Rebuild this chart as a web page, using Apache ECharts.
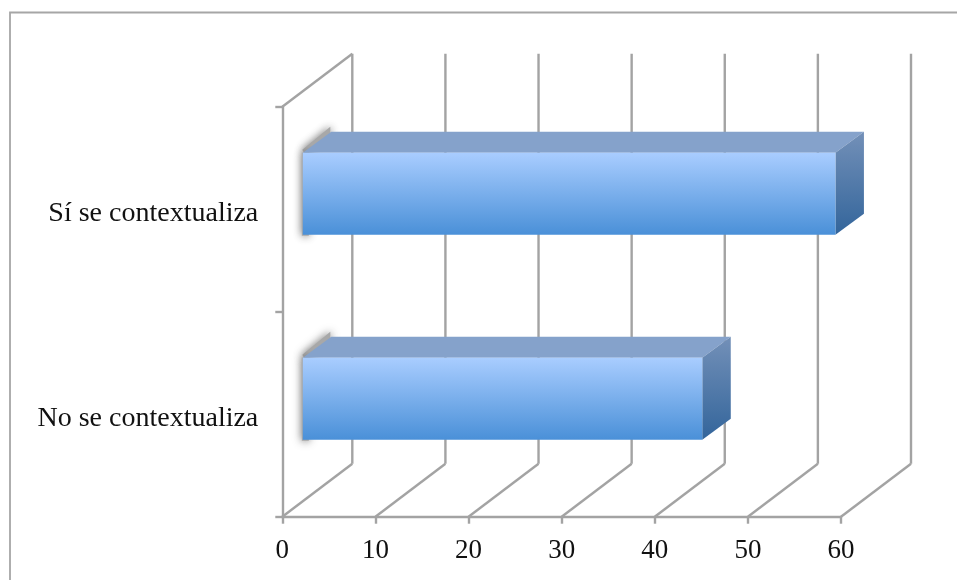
<!DOCTYPE html>
<html><head><meta charset="utf-8">
<style>html,body{margin:0;padding:0;background:#fff}#c{width:957px;height:580px}</style>
<script src="https://cdn.jsdelivr.net/npm/echarts@6/dist/echarts.min.js"></script>
</head><body><div id="c"></div>
<script>
const categories = ['No se contextualiza', 'Sí se contextualiza'];
const barValues = [42.9, 57.2];
const xTicks = [0, 10, 20, 30, 40, 50, 60];

const GRID = '#a3a3a3';
const wallDx = 70, wallDy = -53;
const barStartDx = 20.5, barStartDy = -16;
const barDx = 28.5, barDy = -21;
const bandFill = 0.4;

const chart = echarts.init(document.getElementById('c'), null, {renderer: 'canvas'});

function renderWall(params, api) {
  const t = api.value(0);
  const cs = params.coordSys;
  const x = api.coord([t, 0])[0];
  const yB = cs.y + cs.height, yT = cs.y;
  const ln = (x1, y1, x2, y2) => ({type: 'line', shape: {x1, y1, x2, y2},
    style: {stroke: GRID, lineWidth: 2.4}});
  const kids = [
    ln(x, yB, x + wallDx, yB + wallDy),
    ln(x + wallDx, yB + wallDy, x + wallDx, yT + wallDy)
  ];
  if (t === 0) kids.push(ln(x, yT, x + wallDx, yT + wallDy));
  return {type: 'group', children: kids};
}

function renderBar(params, api) {
  const val = api.value(0), cat = api.value(1);
  const c0 = api.coord([0, cat]), c1 = api.coord([val, cat]);
  const h = api.size([0, 1])[1] * bandFill;
  const xL = c0[0] + barStartDx, xR = c1[0] + barStartDx;
  const yT = c0[1] + barStartDy - h / 2 + 0.5, yB = yT + h;
  const poly = (points, fill, extra) => ({type: 'polygon', shape: {points},
    style: Object.assign({fill}, extra || {})});
  const vg = (a, b) => new echarts.graphic.LinearGradient(0, 0, 0, 1, [{offset: 0, color: a}, {offset: 1, color: b}]);
  const soft = {shadowBlur: 8, shadowColor: 'rgba(80,80,80,0.9)'};
  return {type: 'group', children: [
    poly([[xL - 0.5, yT - 3], [xL + barDx - 1, yT + barDy - 5], [xL + barDx - 1, yT + barDy + 3], [xL + 3, yT + 3]], '#a8a8a8', soft),
    poly([[xL - 1, yT], [xL + 8, yT], [xL + 6, yB + 1], [xL - 1, yB + 1]], '#a8a8a8', soft),
    poly([[xL, yT], [xL + barDx, yT + barDy], [xR + barDx, yT + barDy], [xR, yT]], '#85a2cb'),
    poly([[xR, yT], [xR + barDx, yT + barDy], [xR + barDx, yB + barDy], [xR, yB]], vg('#7390b8', '#33659b')),
    {type: 'rect', shape: {x: xL, y: yT, width: xR - xL, height: yB - yT},
      style: {fill: vg('#a9cdff', '#4a90d8')}}
  ]};
}

chart.setOption({
  animation: false,
  backgroundColor: '#fff',
  graphic: [{type: 'polyline', silent: true, shape: {points: [[10, 580], [10, 12.5], [957, 12.5]]},
    style: {stroke: '#a6a6a6', lineWidth: 1.8, fill: null}}],
  grid: {left: 282.3, top: 106.7, width: 558.7, height: 410},
  xAxis: {
    type: 'value', min: 0, max: 60, interval: 10,
    splitLine: {show: false},
    axisLine: {show: true, lineStyle: {color: GRID, width: 2.4}},
    axisTick: {show: true, length: 7, lineStyle: {color: GRID, width: 2.4}},
    axisLabel: {color: '#111', fontFamily: 'Liberation Serif', fontSize: 27, margin: 21,
      formatter: v => xTicks.includes(v) ? String(v) : ''}
  },
  yAxis: {
    type: 'category', data: categories,
    axisLine: {show: true, onZero: false, lineStyle: {color: GRID, width: 2.4}},
    axisTick: {show: true, length: 7, alignWithLabel: false, lineStyle: {color: GRID, width: 2.4}},
    axisLabel: {color: '#111', fontFamily: 'Liberation Serif', fontSize: 28, margin: 24, verticalAlign: 'top', lineHeight: 8}
  },
  series: [
    {type: 'custom', renderItem: renderWall, coordinateSystem: 'cartesian2d', silent: true,
     encode: {x: 0}, data: xTicks.map(t => [t]), z: 1},
    {type: 'custom', renderItem: renderBar, coordinateSystem: 'cartesian2d', silent: true,
     encode: {x: 0, y: 1}, data: barValues.map((v, i) => [v, i]), z: 3}
  ]
});
</script></body></html>
